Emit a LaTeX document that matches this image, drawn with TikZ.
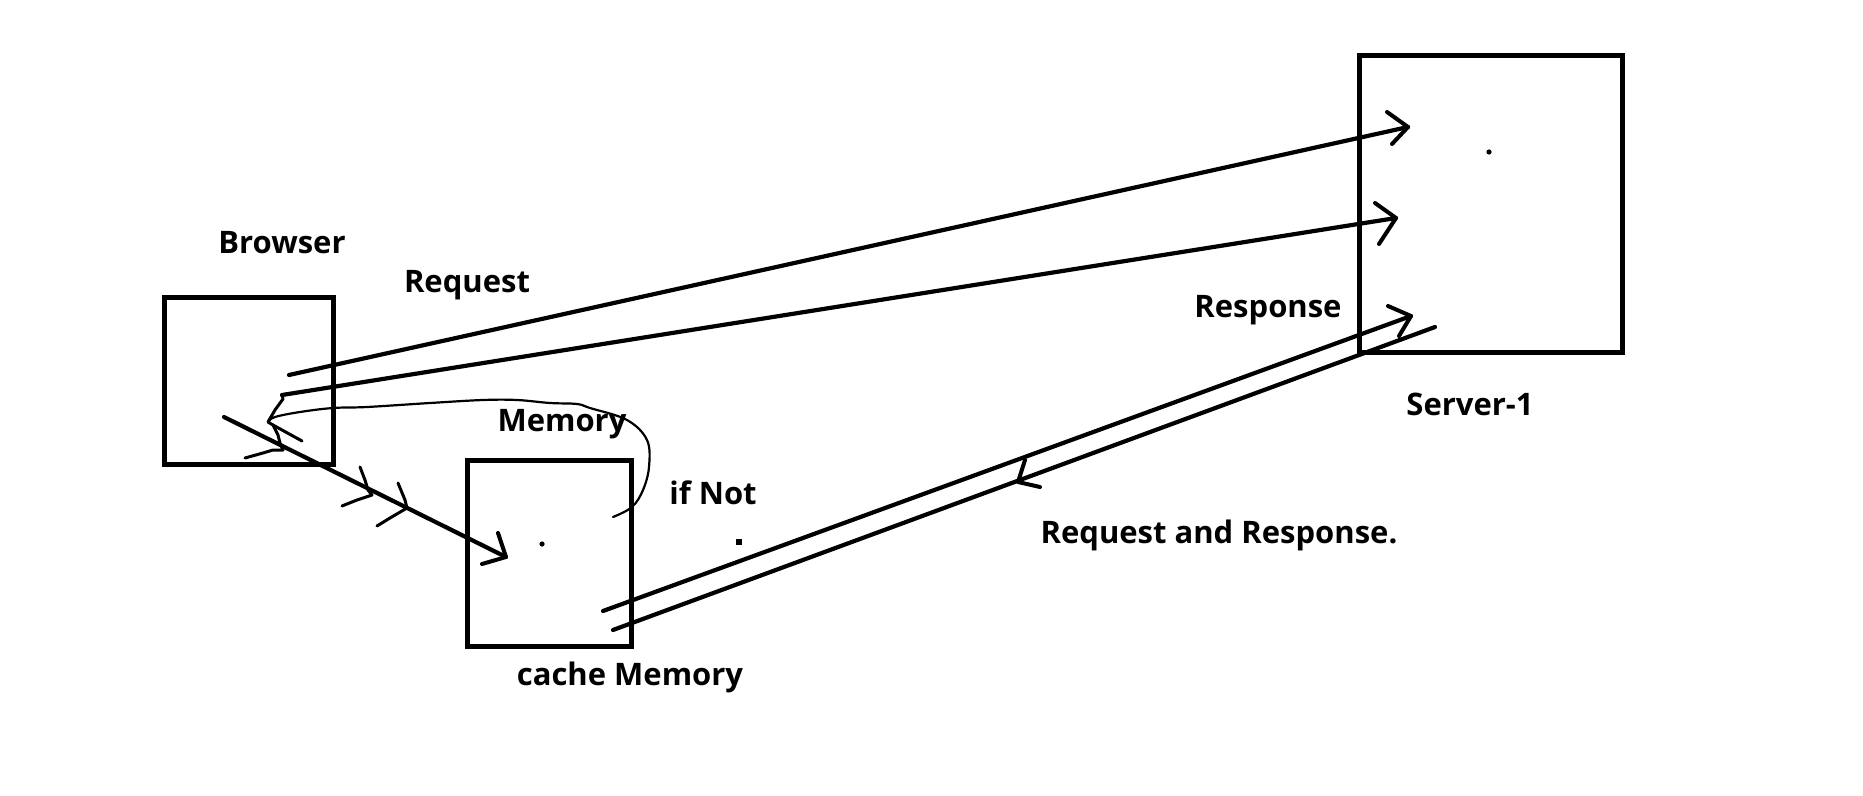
\documentclass[tikz,border=0pt]{standalone}
\usepackage{fontspec}
\newfontfamily\lblfont{Open Sans}
\tikzset{
  box/.style={draw=black, line width=5pt, minimum width=#1, inner sep=0pt, outer sep=0pt, fill=none},
  conn/.style={draw=black, line width=4.2pt, line cap=round, line join=round},
  barb/.style={draw=black, line width=4pt, line cap=round, line join=round},
  scrib/.style={draw=black, line width=3pt, line cap=round, line join=round},
  thin/.style={draw=black, line width=2.2pt, line cap=round, line join=round},
  lbl/.style={font=\lblfont\bfseries\fontsize{31}{37}\selectfont, inner sep=0pt, anchor=base}
}
\begin{document}
\begin{tikzpicture}[x=1pt,y=-1pt]
\useasboundingbox[fill=white] (0,0) rectangle (1863,795);
% boxes
\node[box=169pt, minimum height=167pt] (browser) at (248.5,380.5) {};
\node[box=164pt, minimum height=186pt] (cache) at (549,553) {};
\node[box=263pt, minimum height=297pt] (server) at (1490.5,203.5) {};
% labels
\node[lbl] (tbrowser) at (282,253) {Browser};
\node[lbl] (treq) at (467,292) {Request};
\node[lbl] (tmem) at (562,431) {Memory};
\node[lbl] (tifnot) at (713,504) {if Not};
\node[lbl] (tcache) at (630,685) {cache Memory};
\node[lbl] (tresp) at (1268,317) {Response};
\node[lbl] (tserver) at (1470,415) {Server-1};
\node[lbl] (treqresp) at (1219,543) {Request and Response.};
% dots
\fill (1489,152) circle (2.6pt);
\fill (542,544) circle (2.6pt);
\fill (736,539) rectangle (742,545);
% endpoints
\coordinate (r1s) at (289,375); \coordinate (r1t) at (1408,127);
\coordinate (r2s) at (282,395); \coordinate (r2t) at (1396,218);
\coordinate (bcs) at (224,417); \coordinate (bct) at (506,557);
\coordinate (rus) at (603,611); \coordinate (rut) at (1411,316);
\coordinate (rls) at (613,630); \coordinate (rlt) at (1435,327);
\coordinate (rlh) at (1018,482);
% request arrows
\draw[conn] (r1s) -- (r1t);
\draw[barb] (1387,112) -- (r1t) -- (1392,144);
\draw[conn] (r2s) -- (r2t);
\draw[barb] (1375,203) -- (r2t) -- (1379,244);
% browser -> cache
\draw[conn] (bcs) -- (bct);
\draw[barb] (498,533) -- (bct) -- (482,564);
\draw[scrib] (360,467) -- (365,480) -- (368,490) -- (372,495) -- (357,500) -- (342,506);
\draw[scrib] (398,483) -- (405,500) -- (407,508) -- (390,518) -- (377,526);
% response lines
\draw[conn] (rus) -- (rut);
\draw[barb] (1388,306) -- (rut) -- (1399,336);
\draw[conn] (rls) -- (rlt);
\draw[barb] (1025,460) -- (rlh) -- (1040,487);
% scribble near browser
\draw[scrib] (r2s) -- (283,399) -- (275,410) -- (268,422) -- (273,425) -- (278,435) -- (280,443) -- (283,450) -- (273,450) -- (263,453) -- (245,458);
\draw[scrib] (273,425) -- (302,441);
% thin loop
\draw[thin] plot[smooth, tension=0.6] coordinates {(268,422) (275,417) (300,412) (333,408) (367,407) (430,403) (483,400) (517,400) (550,403) (577,404) (590,408) (627,420) (647,440) (649,467) (643,490) (632,507) (613,517)};
\end{tikzpicture}
\end{document}
